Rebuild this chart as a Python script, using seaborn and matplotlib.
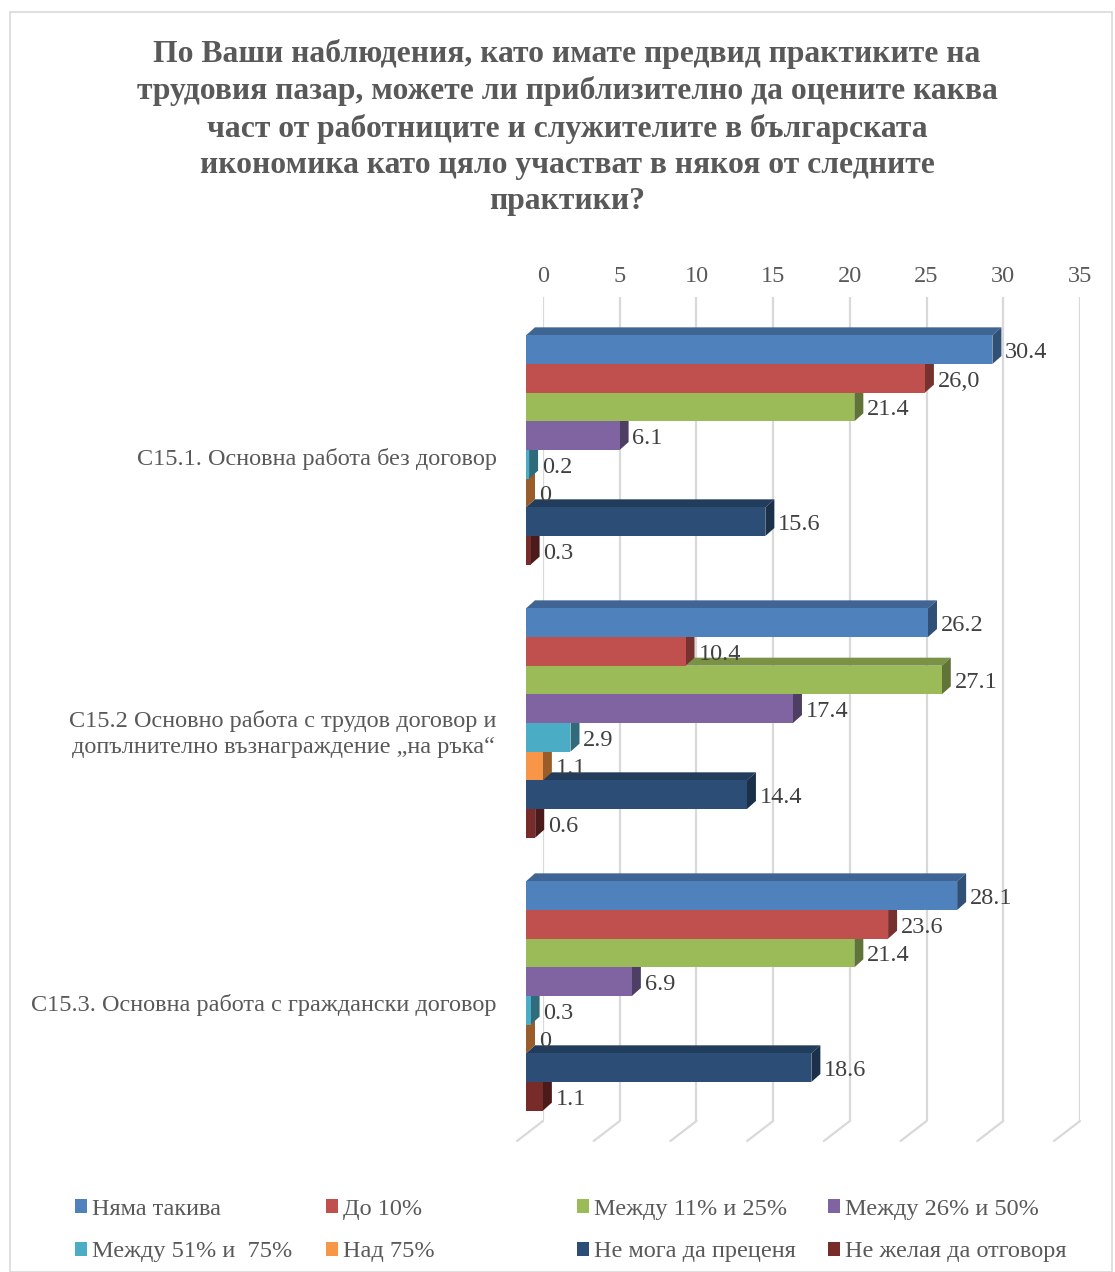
import numpy as np
import pandas as pd
import matplotlib
matplotlib.use("Agg")
import matplotlib.pyplot as plt
from matplotlib.patches import Polygon, Patch, Rectangle
from matplotlib.transforms import ScaledTranslation
import matplotlib.colors as mcolors
import seaborn as sns

# ---- data -------------------------------------------------------------
categories = [
    "С15.1. Основна работа без договор",
    "С15.2 Основно работа с трудов договор и\nдопълнително възнаграждение „на ръка“",
    "С15.3. Основна работа с граждански договор",
]
series = [
    "Няма такива",
    "До 10%",
    "Между 11% и 25%",
    "Между 26% и 50%",
    "Между 51% и  75%",
    "Над 75%",
    "Не мога да преценя",
    "Не желая да отговоря",
]
values_c1 = [30.4, 26.0, 21.4, 6.1, 0.2, 0, 15.6, 0.3]
values_c2 = [26.2, 10.4, 27.1, 17.4, 2.9, 1.1, 14.4, 0.6]
values_c3 = [28.1, 23.6, 21.4, 6.9, 0.3, 0, 18.6, 1.1]
label_overrides = {(0, 1): "26,0"}

colors = ["#4F81BD", "#C0504D", "#9BBB59", "#8064A2",
          "#4BACC6", "#F79646", "#2C4D75", "#772C2A"]
xticks = [0, 5, 10, 15, 20, 25, 30, 35]

title = ("По Ваши наблюдения, като имате предвид практиките на\n"
         "трудовия пазар, можете ли приблизително да оцените каква\n"
         "част от работниците и служителите в българската\n"
         "икономика като цяло участват в някоя от следните\n"
         "практики?")

# ---- long-form table ----------------------------------------------------
all_vals = [values_c1, values_c2, values_c3]
df = pd.DataFrame(
    [(categories[i], series[j], all_vals[i][j])
     for i in range(len(categories)) for j in range(len(series))],
    columns=["category", "series", "value"],
)

# ---- figure -----------------------------------------------------------
W, H = 1115, 1272
DPI = 100
FS = 17.5
sns.set_theme(style="white")
plt.rcParams["font.family"] = ["Liberation Serif", "DejaVu Serif"]

fig = plt.figure(figsize=(W / DPI, H / DPI), dpi=DPI)
fig.patch.set_facecolor("white")

def fr(left, top, right, bottom):
    return [left / W, 1 - bottom / H, (right - left) / W, (bottom - top) / H]

grid_c = "#D9D9D9"
text_c = "#595959"

# back wall with gridlines and the value scale on top
wall = fig.add_axes(fr(543, 297, 1080, 1121))
wall.set_xlim(0, 35)
wall.set_ylim(0, 1)
wall.set_yticks([])
wall.set_xticks(xticks)
wall.xaxis.tick_top()
wall.tick_params(axis="x", length=0, pad=7, labelsize=FS, labelcolor=text_c)
for s in wall.spines.values():
    s.set_visible(False)
wall.patch.set_alpha(0)
px_x = 35 / 537.0
px_y = 1 / 824.0
for v in xticks:
    wall.plot([v, v], [0, 1], color=grid_c, lw=1.6, zorder=1)
    wall.plot([v, v - 26 * px_x], [0, -20 * px_y], color=grid_c, lw=1.6,
              clip_on=False, zorder=1)

# bars in the front plane
ax = fig.add_axes(fr(526, 313.5, 1063, 1132.5))
ax.patch.set_alpha(0)
sns.barplot(data=df, y="category", x="value", hue="series",
            order=categories, hue_order=series, palette=colors,
            width=0.84, orient="h", legend=False, ax=ax, linewidth=0,
            saturation=1)
ax.set_xlim(0, 35)
ax.set_ylim(2.5, -0.5)
ax.set_xticks([])
ax.set_xlabel("")
ax.set_ylabel("")
for s in ax.spines.values():
    s.set_visible(False)
ax.tick_params(axis="y", length=0, pad=21, labelsize=FS, labelcolor=text_c)
for lbl in ax.get_yticklabels():
    lbl.set_transform(lbl.get_transform() +
                      ScaledTranslation(0, -6 / DPI, fig.dpi_scale_trans))
    lbl.set_multialignment("center")
    lbl.set_linespacing(1.3)

# depth of the bars (pixels converted to data units)
dx = 9 * 35 / 537.0
dy = 8 * 3 / 819.0

def shade(c, f):
    r, g, b = mcolors.to_rgb(c)
    return (r * f, g * f, b * f)

bars = list(ax.patches)
for k, p in enumerate(bars):
    j = k // len(categories)           # series index
    i = k % len(categories)            # category index
    x0, y0 = p.get_x(), p.get_y()
    w, h = p.get_width(), p.get_height()
    yt, yb = y0, y0 + h                # top / bottom edges (inverted axis)
    z = 50 - (y0 + h / 2) * 10
    p.set_zorder(z)
    base = colors[j]
    top = Polygon([(x0, yt), (x0 + dx, yt - dy), (x0 + w + dx, yt - dy),
                   (x0 + w, yt)], closed=True, facecolor=shade(base, 0.78),
                  edgecolor="none", zorder=z - 0.01)
    side = Polygon([(x0 + w, yt), (x0 + w + dx, yt - dy),
                    (x0 + w + dx, yb - dy), (x0 + w, yb)], closed=True,
                   facecolor=shade(base, 0.62), edgecolor="none",
                   zorder=z - 0.01)
    ax.add_patch(top)
    ax.add_patch(side)
    val = all_vals[i][j]
    txt = label_overrides.get((i, j), "0" if val == 0 else f"{val:.1f}")
    ax.text(x0 + w + dx + 0.25, y0 + h / 2 + 0.01, txt, ha="left",
            va="center", fontsize=FS, color="#404040", zorder=60)

# title
fig.text(567 / W, 1 - 39 / H, title, ha="center", va="top", fontsize=22.8,
         fontweight="bold", color=text_c, linespacing=1.32)

# legend: four equally spaced columns of two entries
handles = [Patch(facecolor=c, edgecolor="none") for c in colors]
col_x = [75, 326, 577, 828]
for ci, cx in enumerate(col_x):
    idx = [ci, ci + 4]
    leg = fig.legend([handles[n] for n in idx], [series[n] for n in idx],
                     loc="upper left", bbox_to_anchor=(cx / W, 1 - 1199 / H),
                     frameon=False, fontsize=FS, handlelength=0.5,
                     handleheight=0.5, handletextpad=0.2, borderpad=0,
                     borderaxespad=0, labelspacing=0.88, labelcolor=text_c)

# chart border
fig.add_artist(Rectangle((10 / W, 0.5 / H), 1102 / W, (H - 12.5) / H,
                         transform=fig.transFigure, fill=False,
                         edgecolor=grid_c, lw=1.2))

fig.savefig("out.png", dpi=DPI, facecolor="white")
